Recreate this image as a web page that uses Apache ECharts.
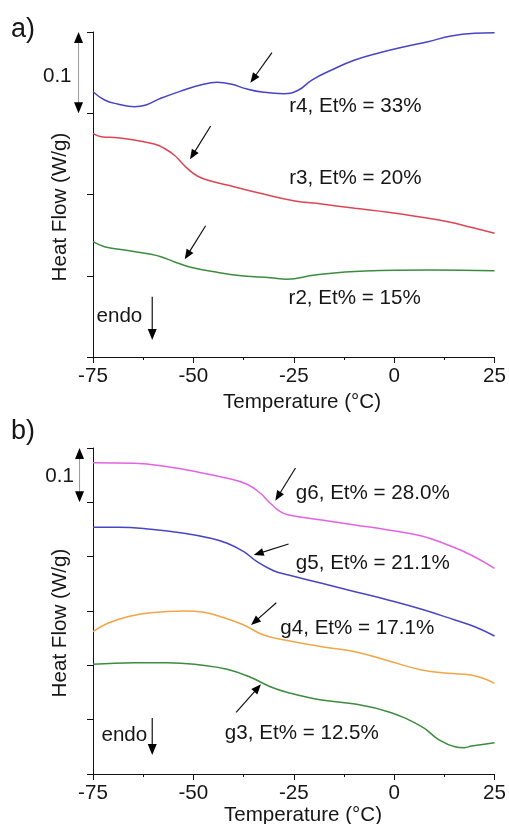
<!DOCTYPE html>
<html><head><meta charset="utf-8">
<script src="https://cdn.jsdelivr.net/npm/echarts@6/dist/echarts.min.js"></script>
<style>html,body{margin:0;padding:0;background:#fff}#c{width:509px;height:824px}</style>
</head><body><div id="c"></div>
<script>
// ---- axis settings (data units) ----
const xMin = -75, xMax = 25, xStep = 25;
const yTopMax = 0.4, yBotMax = 0.6, yStep = 0.1;

// ---- panel a ----
const r4T = [-75,-72.1,-68.9,-64.7,-61.8,-58.1,-52.3,-48.2,-44.1,-40.7,-36.6,-32.5,-27.5,-23.8,-20.5,-15.6,-9.8,-3.2,2.6,8.4,14.2,20,25];
const r4V = [0.3265,0.3163,0.3114,0.3081,0.3102,0.3184,0.3286,0.3348,0.3381,0.3360,0.3298,0.3258,0.3240,0.3286,0.3409,0.3532,0.3655,0.3750,0.3819,0.3881,0.3951,0.3984,0.3991];
const r3T = [-75,-72.97,-68.85,-64.71,-59.76,-57.28,-54.80,-53.14,-51.51,-49.03,-45.71,-39.93,-33.31,-25.06,-18.05,-9.77,-1.52,6.86,13.36,19.13,25];
const r3V = [0.2753,0.2711,0.2699,0.2671,0.2622,0.2569,0.2486,0.2404,0.2322,0.2228,0.2166,0.2096,0.2015,0.1924,0.1883,0.1830,0.1781,0.1719,0.1665,0.1596,0.1522];
const r2T = [-75,-72.15,-67.19,-60.58,-58.1,-54.8,-50.66,-44.07,-37.45,-30.84,-26.72,-19.68,-7.29,9.21,25];
const r2V = [0.1419,0.1358,0.1317,0.1264,0.1234,0.1173,0.1104,0.1042,0.0997,0.0976,0.0956,0.1009,0.1058,0.1071,0.1062];

// ---- panel b ----
const g6T = [-75,-64.71,-56.46,-48.18,-41.59,-36.64,-33.31,-30.84,-28.36,-26.30,-18.05,-9.77,-1.52,6.86,13.36,19.13,25];
const g6V = [0.5730,0.5719,0.5656,0.5546,0.5443,0.5332,0.5167,0.4982,0.4828,0.4767,0.4675,0.4583,0.4491,0.4381,0.4215,0.4031,0.3786];
const g5T = [-75,-68.85,-60.58,-52.32,-45.71,-41.59,-37.45,-34.16,-30.02,-26.30,-18.05,-9.77,-1.52,6.86,15.13,20.09,25];
const g5V = [0.4541,0.4541,0.4504,0.4430,0.4338,0.4246,0.4092,0.3908,0.3742,0.3663,0.3510,0.3355,0.3203,0.3031,0.2835,0.2711,0.2540];
const g4T = [-75,-71.33,-66.38,-60.58,-52.32,-47.37,-42.41,-37.45,-32.50,-26.30,-18.05,-9.77,-1.52,6.86,13.36,19.13,25];
const g4V = [0.2619,0.2774,0.2895,0.2969,0.3000,0.2976,0.2877,0.2742,0.2558,0.2453,0.2343,0.2251,0.2085,0.1914,0.1853,0.1822,0.1669];
const g3T = [-75,-64.71,-56.46,-48.18,-41.59,-35.79,-30.84,-26.30,-18.05,-9.77,-1.52,6.86,10.99,15.13,17.5,19.26,25];
const g3V = [0.2019,0.2049,0.2049,0.2006,0.1927,0.1780,0.1607,0.1496,0.1362,0.1288,0.1147,0.0871,0.0639,0.0502,0.0485,0.0515,0.0576];

// ---- annotations (data units) ----
const labelsA = [
  {text:'r4, Et% = 33%', at:[-26.13,0.308]},
  {text:'r3, Et% = 20%', at:[-26.13,0.220]},
  {text:'r2, Et% = 15%', at:[-26.3,0.0722]}
];
const arrowsA = [
  {from:[-30.44,0.3745], to:[-35.8,0.3376]},
  {from:[-45.7,0.2843], to:[-50.84,0.2433]},
  {from:[-46.95,0.1616], to:[-52.15,0.1202]}
];
const labelsB = [
  {text:'g6, Et% = 28.0%', at:[-24.5,0.5167]},
  {text:'g5, Et% = 21.1%', at:[-24.5,0.3878]},
  {text:'g4, Et% = 17.1%', at:[-28.36,0.2682]},
  {text:'g3, Et% = 12.5%', at:[-42.16,0.0749]}
];
const arrowsB = [
  {from:[-24.57,0.5632], to:[-29.6,0.503]},
  {from:[-26.3,0.4233], to:[-34.97,0.4031]},
  {from:[-29.35,0.3153], to:[-35.64,0.2742]},
  {from:[-39.36,0.1136], to:[-33.17,0.1651]}
];

const FONT = '"Liberation Sans", Arial, sans-serif';
const FS = 20.6;
const TXT = '#161616';
const C = {blue:'#4646c4', red:'#dc4652', green:'#3c8c40', mag:'#e264e2', orange:'#f0a646'};

const chart = echarts.init(document.getElementById('c'), null, {renderer:'canvas'});

function xAx(g){
  return {gridIndex:g, type:'value', min:xMin, max:xMax, interval:xStep,
    axisLine:{show:true, onZero:false, lineStyle:{color:'#111', width:1}},
    axisTick:{show:true, inside:false, length:6, lineStyle:{color:'#111'}},
    minorTick:{show:true, splitNumber:2, length:3, lineStyle:{color:'#111'}},
    axisLabel:{fontSize:FS, color:TXT, fontFamily:FONT, margin:9},
    splitLine:{show:false}, minorSplitLine:{show:false}};
}
function yAx(g, max){
  return {gridIndex:g, type:'value', min:0, max:max, interval:yStep,
    axisLine:{show:true, onZero:false, lineStyle:{color:'#111', width:1}},
    axisTick:{show:true, inside:false, length:6, lineStyle:{color:'#111'}},
    axisLabel:{show:false}, splitLine:{show:false}};
}
function ser(g, T, V, color){
  return {type:'line', xAxisIndex:g, yAxisIndex:g, data:T.map((t,i)=>[t,V[i]]),
    showSymbol:false, smooth:0.45, lineStyle:{color:color, width:1.5}, silent:true};
}

chart.setOption({
  animation:false,
  backgroundColor:'#fff',
  grid:[
    {left:93, right:12, top:32, height:325},
    {left:93, right:12, top:448, height:326}
  ],
  xAxis:[xAx(0), xAx(1)],
  yAxis:[yAx(0, yTopMax), yAx(1, yBotMax)],
  series:[
    ser(0, r4T, r4V, C.blue),
    ser(0, r3T, r3V, C.red),
    ser(0, r2T, r2V, C.green),
    ser(1, g6T, g6V, C.mag),
    ser(1, g5T, g5V, C.blue),
    ser(1, g4T, g4V, C.orange),
    ser(1, g3T, g3V, C.green)
  ]
});

function px(g, p){ return chart.convertToPixel({gridIndex:g}, p); }
function head(tip, ux, uy, hl, hw){
  const b=[tip[0]-ux*hl, tip[1]-uy*hl], nx=-uy, ny=ux;
  return {type:'polygon', silent:true, shape:{points:[tip,[b[0]+nx*hw,b[1]+ny*hw],[b[0]-nx*hw,b[1]-ny*hw]]}, style:{fill:'#000'}};
}
function arrow(p0, p1, lw, hl, hw, stroke){
  const dx=p1[0]-p0[0], dy=p1[1]-p0[1], L=Math.hypot(dx,dy), ux=dx/L, uy=dy/L;
  return [
    {type:'line', silent:true, shape:{x1:p0[0],y1:p0[1],x2:p1[0]-ux*hl*0.7,y2:p1[1]-uy*hl*0.7}, style:{stroke:stroke||'#111', lineWidth:lw}},
    head(p1, ux, uy, hl, hw)
  ];
}
function dbl(p0, p1){
  const dx=p1[0]-p0[0], dy=p1[1]-p0[1], L=Math.hypot(dx,dy), ux=dx/L, uy=dy/L, hl=11, hw=4.5;
  return [
    {type:'line', silent:true, shape:{x1:p0[0]+ux*hl*0.7,y1:p0[1]+uy*hl*0.7,x2:p1[0]-ux*hl*0.7,y2:p1[1]-uy*hl*0.7}, style:{stroke:'#999', lineWidth:1}},
    head(p1, ux, uy, hl, hw), head(p0, -ux, -uy, hl, hw)
  ];
}
function txt(p, s, align){
  return {type:'text', silent:true, x:p[0], y:p[1],
    style:{text:s, fontSize:FS, fontFamily:FONT, fill:TXT, align:align||'left', verticalAlign:'middle'}};
}

const gr = [];
labelsA.forEach(l=>gr.push(txt(px(0,l.at), l.text)));
labelsB.forEach(l=>gr.push(txt(px(1,l.at), l.text)));
arrowsA.forEach(a=>gr.push(...arrow(px(0,a.from), px(0,a.to), 1.2, 10, 4)));
arrowsB.forEach(a=>gr.push(...arrow(px(1,a.from), px(1,a.to), 1.2, 10, 4)));

// scale bars (0.1 W/g)
gr.push(...dbl(px(0,[-78.6, yTopMax]), px(0,[-78.6, yTopMax-yStep])));
gr.push(txt(px(0,[-83.9, yTopMax-yStep*0.54]), '0.1', 'center'));
gr.push(...dbl(px(1,[-78.35, yBotMax]), px(1,[-78.35, yBotMax-yStep])));
gr.push(txt(px(1,[-83.3, yBotMax-yStep*0.53]), '0.1', 'center'));

// endo arrows
gr.push(txt(px(0,[-74.13,0.0505]), 'endo'));
gr.push(...arrow(px(0,[-60.25,0.0742]), px(0,[-60.25,0.0209]), 1.2, 11, 4.5));
gr.push(txt(px(1,[-72.9,0.0718]), 'endo'));
gr.push(...arrow(px(1,[-60.25,0.103]), px(1,[-60.25,0.035]), 1.2, 11, 4.5));

// axis titles and panel letters
gr.push({type:'text', silent:true, x:60, y:207, rotation:Math.PI/2,
  style:{text:'Heat Flow (W/g)', fontSize:FS, fontFamily:FONT, fill:TXT, align:'center', verticalAlign:'middle'}});
gr.push({type:'text', silent:true, x:60, y:623, rotation:Math.PI/2,
  style:{text:'Heat Flow (W/g)', fontSize:FS, fontFamily:FONT, fill:TXT, align:'center', verticalAlign:'middle'}});
gr.push({type:'text', silent:true, x:302, y:402,
  style:{text:'Temperature (°C)', fontSize:FS, fontFamily:FONT, fill:TXT, align:'center', verticalAlign:'middle'}});
gr.push({type:'text', silent:true, x:303, y:815,
  style:{text:'Temperature (°C)', fontSize:FS, fontFamily:FONT, fill:TXT, align:'center', verticalAlign:'middle'}});
gr.push({type:'text', silent:true, x:11, y:30,
  style:{text:'a)', fontSize:27, fontFamily:FONT, fill:TXT, align:'left', verticalAlign:'middle'}});
gr.push({type:'text', silent:true, x:11, y:432,
  style:{text:'b)', fontSize:27, fontFamily:FONT, fill:TXT, align:'left', verticalAlign:'middle'}});

chart.setOption({graphic:gr});
</script>
</body></html>
